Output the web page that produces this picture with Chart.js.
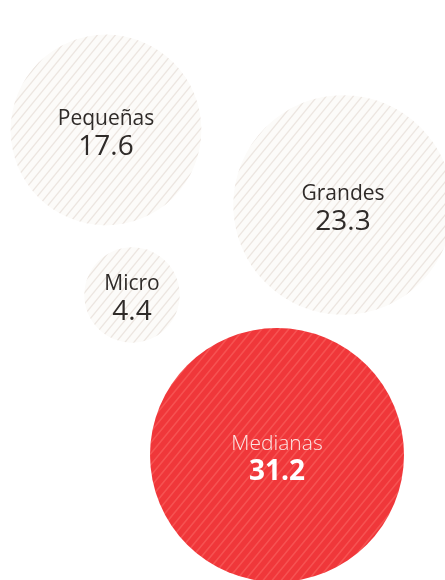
<!DOCTYPE html>
<html>
<head>
<meta charset="utf-8">
<script src="https://cdn.jsdelivr.net/npm/chart.js@4/dist/chart.umd.min.js"></script>
<style>
  html, body { margin: 0; padding: 0; background: #ffffff; }
  #wrap { width: 445px; height: 580px; }
</style>
</head>
<body>
<div id="wrap"><canvas id="BubbleChart" width="445" height="580"></canvas></div>
<script>
(function () {
  "use strict";

  // Data
  const categories = ['Pequeñas', 'Grandes', 'Micro', 'Medianas'];
  const values     = [17.6, 23.3, 4.4, 31.2];
  const highlight  = 'Medianas';

  // Layout (bubble centres, in axis units = px of the 445x580 page)
  const centerX = [106, 343, 132, 277];
  const centerY = [130, 205, 295, 455];

  // Colors
  const text_dark   = '#2f2b29';
  const red_base    = '#f0373a';
  const red_stripe  = 'rgba(255,120,115,0.42)';
  const pale_base   = '#fcfbf9';
  const pale_stripe = 'rgba(214,200,190,0.42)';

  // area proportional size: largest bubble gets 127px radius
  const maxR = 127;
  const k = maxR / Math.sqrt(Math.max.apply(null, values));

  // diagonal hatch pattern (one "/" stroke per tile, a bit steeper than 45deg)
  function hatch(ctx, base, stripe, width) {
    const w = 9, h = 11;
    const c = document.createElement('canvas');
    c.width = w; c.height = h;
    const p = c.getContext('2d');
    p.fillStyle = base;
    p.fillRect(0, 0, w, h);
    p.strokeStyle = stripe;
    p.lineWidth = width;
    p.beginPath();
    p.moveTo(-w, 2 * h); p.lineTo(2 * w, -h);
    p.moveTo(-2 * w, 2 * h); p.lineTo(w, -h);
    p.moveTo(0, 2 * h); p.lineTo(3 * w, -h);
    p.stroke();
    return ctx.createPattern(c, 'repeat');
  }

  const canvas = document.getElementById('BubbleChart');
  const ctx = canvas.getContext('2d');
  const redFill  = hatch(ctx, red_base, red_stripe, 1.6);
  const paleFill = hatch(ctx, pale_base, pale_stripe, 1.4);

  const points = categories.map(function (c, i) {
    return { x: centerX[i], y: centerY[i], r: k * Math.sqrt(values[i]) };
  });

  // labels inside bubbles
  const bubbleLabels = {
    id: 'bubbleLabels',
    afterDatasetsDraw: function (chart) {
      const c = chart.ctx;
      const meta = chart.getDatasetMeta(0);
      c.save();
      c.textAlign = 'center';
      c.textBaseline = 'alphabetic';
      meta.data.forEach(function (el, i) {
        const hot = categories[i] === highlight;
        c.fillStyle = hot ? '#fbe4e2' : text_dark;
        c.font = (hot ? '300 ' : '400 ') + '21px "Open Sans", sans-serif';
        c.fillText(categories[i], el.x, el.y - 5);
        c.fillStyle = hot ? '#ffffff' : text_dark;
        c.font = (hot ? '700 ' : '400 ') + '28px "Open Sans", sans-serif';
        c.fillText(values[i].toFixed(1), el.x, el.y + 25);
      });
      c.restore();
    }
  };

  new Chart(ctx, {
    type: 'bubble',
    data: {
      labels: categories,
      datasets: [{
        label: 'Empresas',
        data: points,
        backgroundColor: categories.map(function (c) { return c === highlight ? redFill : paleFill; }),
        borderWidth: 0,
        hoverRadius: 0,
        clip: false
      }]
    },
    options: {
      responsive: false,
      animation: false,
      events: [],
      layout: { padding: 0, autoPadding: false },
      scales: {
        x: { display: false, min: 0, max: 445 },
        y: { display: false, min: 0, max: 580, reverse: true }
      },
      plugins: {
        legend: { display: false },
        tooltip: { enabled: false }
      }
    },
    plugins: [bubbleLabels]
  });
})();
</script>
</body>
</html>
